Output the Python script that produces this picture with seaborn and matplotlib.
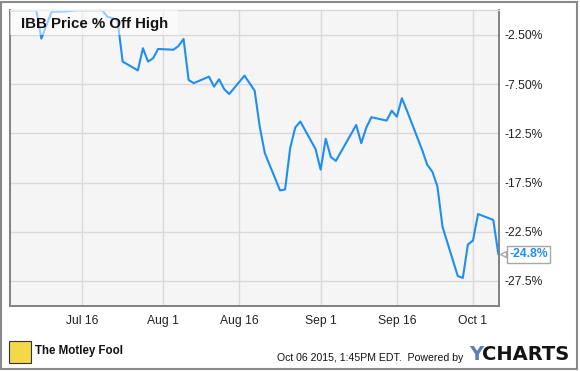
import matplotlib
matplotlib.use("Agg")
import matplotlib.pyplot as plt
import matplotlib.transforms as mtransforms
from matplotlib.patches import Rectangle
import pandas as pd
import seaborn as sns

dates = ["2015-07-02", "2015-07-06", "2015-07-07", "2015-07-08", "2015-07-09", "2015-07-10",
         "2015-07-13", "2015-07-14", "2015-07-15", "2015-07-16", "2015-07-17",
         "2015-07-20", "2015-07-21", "2015-07-22", "2015-07-23", "2015-07-24",
         "2015-07-27", "2015-07-28", "2015-07-29", "2015-07-30", "2015-07-31",
         "2015-08-03", "2015-08-04", "2015-08-05", "2015-08-06", "2015-08-07",
         "2015-08-10", "2015-08-11", "2015-08-12", "2015-08-13", "2015-08-14",
         "2015-08-17", "2015-08-18", "2015-08-19", "2015-08-20", "2015-08-21",
         "2015-08-24", "2015-08-25", "2015-08-26", "2015-08-27", "2015-08-28",
         "2015-08-31", "2015-09-01", "2015-09-02", "2015-09-03", "2015-09-04",
         "2015-09-08", "2015-09-09", "2015-09-10", "2015-09-11",
         "2015-09-14", "2015-09-15", "2015-09-16", "2015-09-17", "2015-09-18",
         "2015-09-21", "2015-09-22", "2015-09-23", "2015-09-24", "2015-09-25",
         "2015-09-28", "2015-09-29", "2015-09-30", "2015-10-01", "2015-10-02",
         "2015-10-05", "2015-10-06"]
pct_off_high = [0.0, 0.0, 0.0, -2.87, -1.5, -0.15,
                -0.1, -0.05, 0.0, 0.0, 0.0,
                0.0, -0.64, -0.8, -1.0, -5.2,
                -6.1, -3.85, -5.2, -4.87, -3.92,
                -4.0, -3.62, -2.9, -7.07, -7.4,
                -6.73, -7.75, -7.0, -8.0, -8.5,
                -6.63, -7.4, -8.16, -11.8, -14.5,
                -18.3, -18.2, -14.0, -11.9, -11.3,
                -14.1, -16.2, -13.05, -14.9, -15.3,
                -11.65, -13.5, -11.9, -10.86,
                -11.2, -10.2, -10.8, -8.93, -10.2,
                -14.2, -15.7, -16.4, -17.9, -22.0,
                -27.0, -27.2, -23.8, -23.4, -20.7,
                -21.3, -24.8]
y_ticks = [-2.5, -7.5, -12.5, -17.5, -22.5, -27.5]
y_tick_labels = ["-2.50%", "-7.50%", "-12.5%", "-17.5%", "-22.5%", "-27.5%"]
x_tick_dates = ["2015-07-16", "2015-08-01", "2015-08-16", "2015-09-01", "2015-09-16", "2015-10-01"]
x_tick_labels = ["Jul 16", "Aug 1", "Aug 16", "Sep 1", "Sep 16", "Oct 1"]
last_label = "-24.8%"
title = "IBB Price % Off High"

BLUE = "#1e8ef0"
FONT = "Liberation Sans"

df = pd.DataFrame({"date": pd.to_datetime(dates), "pct": pct_off_high})

sns.set_style("white")
plt.rcParams["font.family"] = [FONT, "DejaVu Sans"]

W, H = 580, 371
fig = plt.figure(figsize=(W / 100, H / 100), dpi=100)
fig.patch.set_facecolor("white")

left_px, right_px, top_px, bot_px = 10, 499, 10.4, 305.5
ax = fig.add_axes([left_px / W, (H - bot_px) / H, (right_px - left_px) / W, (bot_px - top_px) / H])
ax.set_facecolor("#f5f5f5")

sns.lineplot(data=df, x="date", y="pct", ax=ax, color=BLUE, linewidth=1.5, zorder=2)

ax.set_xlim(pd.Timestamp("2015-07-01 19:40"), pd.Timestamp("2015-10-06 03:00"))
ax.set_ylim(-30, 0)

ax.yaxis.tick_right()
ax.set_yticks(y_ticks)
ax.set_yticklabels(y_tick_labels)
ax.set_xticks(pd.to_datetime(x_tick_dates))
ax.set_xticklabels(x_tick_labels)
ax.tick_params(axis="y", length=0, pad=4, labelsize=8.7, labelcolor="#222222")
ax.tick_params(axis="x", length=0, pad=7, labelsize=8.7, labelcolor="#222222")
ax.set_xlabel("")
ax.set_ylabel("")
ax.grid(True, color="#d9d9d9", linewidth=1.0, zorder=0)
ax.set_axisbelow(True)

for side in ["left", "bottom", "right"]:
    ax.spines[side].set_visible(True)
    ax.spines[side].set_color("#808080")
    ax.spines[side].set_linewidth(1.4)
ax.spines["top"].set_visible(True)
ax.spines["top"].set_color("#d9d9d9")
ax.spines["top"].set_linewidth(1.0)

# title box
aw = right_px - left_px
ah = bot_px - top_px
ax.add_patch(Rectangle((0, 1 - 25 / ah), 168 / aw, 25 / ah, transform=ax.transAxes,
                       facecolor="white", alpha=0.55, edgecolor="none", zorder=3))
ax.text(11 / aw, 1 - 13.5 / ah, title, transform=ax.transAxes, ha="left", va="center",
        fontsize=10.8, fontweight="bold", color="#111111", zorder=4)

# last value label
blend = mtransforms.blended_transform_factory(ax.transAxes, ax.transData)
ax.annotate(last_label, xy=(1.0, pct_off_high[-1]), xycoords=blend,
            xytext=(10, 0), textcoords="offset pixels", ha="left", va="center",
            fontsize=8.7, fontweight="bold", color=BLUE, zorder=6,
            bbox=dict(boxstyle="square,pad=0.2", fc="white", ec="#a8a8a8", lw=1.0))
ax.plot([1.0 + 3.5 / aw], [pct_off_high[-1]], transform=blend, marker="<", ms=5,
        mfc="white", mec="#a8a8a8", mew=1.0, clip_on=False, zorder=5)

# outer frame
fig.patches.append(Rectangle((1 / W, 2 / H), 576 / W, 367 / H, transform=fig.transFigure,
                             fill=False, edgecolor="#8a8a8a", linewidth=1.5))

# footer
fig.patches.append(Rectangle((9 / W, (H - 363) / H), 22 / W, 22 / H, transform=fig.transFigure,
                             facecolor="#f3d84a", edgecolor="#333333", linewidth=0.8))
fig.text(35 / W, (H - 351) / H, "The Motley Fool", ha="left", va="center",
         fontsize=8.3, fontweight="bold", color="#111111")
fig.text(277 / W, (H - 358) / H, "Oct 06 2015, 1:45PM EDT.  Powered by", ha="left", va="center",
         fontsize=7.6, color="#111111")
fig.text(469 / W, (H - 355) / H, "Y", ha="left", va="center", fontsize=14,
         fontweight="bold", color="#5a7fb5", family=["DejaVu Sans"])
fig.text(482 / W, (H - 355) / H, "CHARTS", ha="left", va="center", fontsize=14,
         fontweight="bold", color="#141414", family=["DejaVu Sans"])

fig.savefig("out.png", dpi=100)
